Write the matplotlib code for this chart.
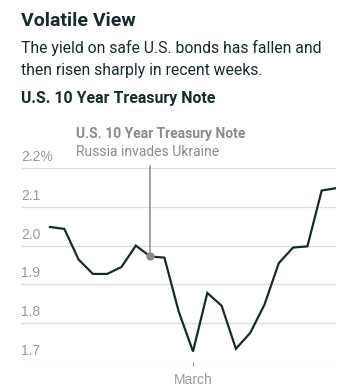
import matplotlib.pyplot as plt
import matplotlib.transforms as mtransforms

# --- Data (10-year Treasury yield, trading days) ---
dates = ["Feb 14", "Feb 15", "Feb 16", "Feb 17", "Feb 18", "Feb 22", "Feb 23",
         "Feb 24", "Feb 25", "Feb 28", "Mar 1", "Mar 2", "Mar 3", "Mar 4",
         "Mar 7", "Mar 8", "Mar 9", "Mar 10", "Mar 11", "Mar 14", "Mar 15"]
yields = [2.048, 2.043, 1.964, 1.927, 1.927, 1.945, 2.000, 1.972, 1.969, 1.830,
          1.727, 1.878, 1.845, 1.734, 1.775, 1.848, 1.955, 1.995, 1.998, 2.142, 2.148]
y_ticks = [1.7, 1.8, 1.9, 2.0, 2.1, 2.2]
y_tick_labels = ["1.7", "1.8", "1.9", "2.0", "2.1", "2.2%"]
x_tick_date = "Mar 1"
x_tick_label = "March"
event_date = "Feb 24"

# --- Style ---
DARK = "#172a2c"
GRAY = "#8a8a8a"
TICK = "#999999"
GRID = "#dddddd"
FONT = "Roboto"
TICK_FONT = "Liberation Sans"

W, H = 349, 392
fig = plt.figure(figsize=(W / 100, H / 100), dpi=100)

def px(x, y):
    return x / W, 1 - y / H

# header texts
fig.text(*px(21, 21), "Volatile View", fontsize=14, fontweight="bold",
         color=DARK, family=FONT, va="center", ha="left")
fig.text(*px(21, 48), "The yield on safe U.S. bonds has fallen and",
         fontsize=11.3, color=DARK, family=FONT, va="center", ha="left")
fig.text(*px(21, 70), "then risen sharply in recent weeks.",
         fontsize=11.3, color=DARK, family=FONT, va="center", ha="left")
fig.text(*px(21, 99), "U.S. 10 Year Treasury Note", fontsize=11.4,
         fontweight="bold", color=DARK, family=FONT, va="center", ha="left")

# axes: bottom gridline at y=362px, top gridline at y=168px
left, right = 21, 336
top, bottom = 168, 362
ax = fig.add_axes([left / W, 1 - bottom / H, (right - left) / W, (bottom - top) / H])

xs = list(range(len(dates)))
ax.plot(xs, yields, color=DARK, lw=1.6, solid_joinstyle="miter", zorder=3)

ax.set_xlim(-2.03, len(dates) - 1)
ax.set_ylim(y_ticks[0], y_ticks[-1])

for spine in ax.spines.values():
    spine.set_visible(False)
ax.set_yticks([])
for v in y_ticks:
    ax.axhline(v, color=GRID, lw=0.9, zorder=1)

# y labels sit above gridlines at the left edge
trans = mtransforms.blended_transform_factory(ax.transAxes, ax.transData)
offset = mtransforms.offset_copy(trans, fig=fig, y=4, units="dots")
for v, lab in zip(y_ticks, y_tick_labels):
    ax.text(0, v, lab, transform=offset, fontsize=10, color=TICK,
            family=TICK_FONT, ha="left", va="bottom")

# x tick
ax.set_xticks([dates.index(x_tick_date)])
ax.set_xticklabels([x_tick_label], family=TICK_FONT, fontsize=10, color=TICK)
ax.tick_params(axis="x", length=3, width=0.8, color=TICK, pad=5)

# event annotation
ei = dates.index(event_date)
ax.plot([ei, ei], [yields[ei], 2.205], color=GRAY, lw=1.1, zorder=2, clip_on=False)
ax.plot(ei, yields[ei], "o", color=GRAY, ms=5, zorder=4, clip_on=False)
fig.text(*px(76, 134), "U.S. 10 Year Treasury Note", fontsize=10,
         fontweight="bold", color=GRAY, family=FONT, va="center", ha="left")
fig.text(*px(76, 152), "Russia invades Ukraine", fontsize=10,
         color=GRAY, family=FONT, va="center", ha="left")

fig.savefig("out.png", dpi=100)
